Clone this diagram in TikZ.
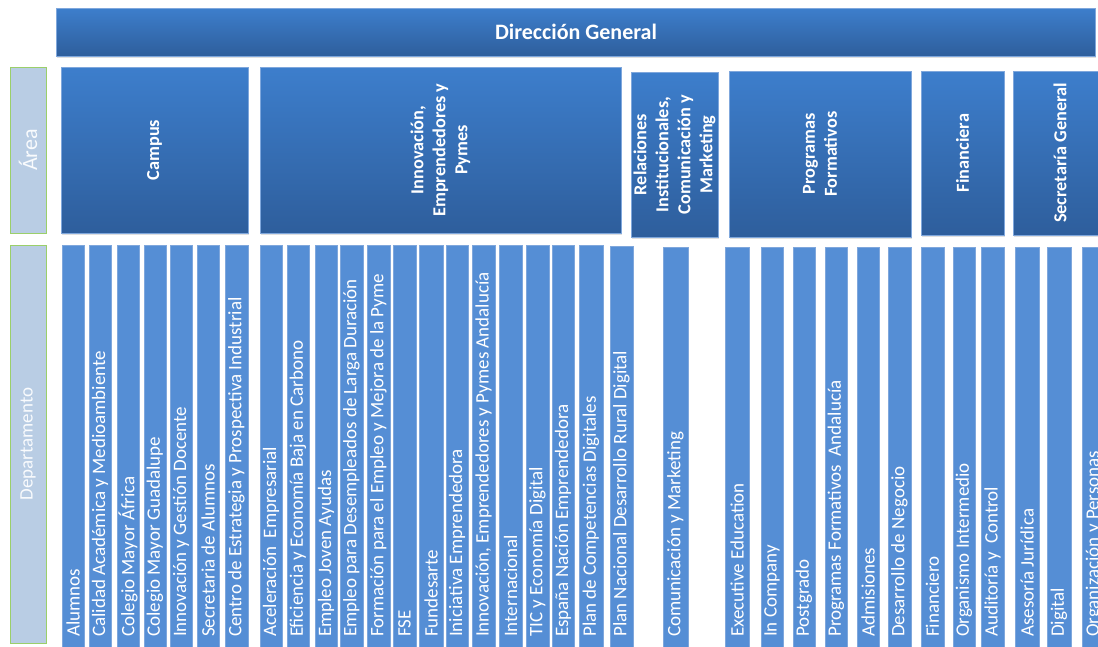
\documentclass[tikz,border=0pt]{standalone}
\usepackage{fontspec}
\setmainfont{Carlito}
\usetikzlibrary{shadows}
\definecolor{hdtop}{HTML}{3D7ECC}
\definecolor{hdbot}{HTML}{2E5E9C}
\definecolor{barfill}{HTML}{558ED5}
\definecolor{barline}{HTML}{7FA7DC}
\definecolor{sidefill}{HTML}{B9CDE4}
\definecolor{sideline}{HTML}{9BCF6A}
\tikzset{
  hdbox/.style={draw=barline, line width=0.6pt, top color=hdtop, bottom color=hdbot, inner sep=0pt,
    drop shadow={opacity=0.25, shadow xshift=1pt, shadow yshift=-2pt}},
  deptbar/.style={draw=barline, line width=0.6pt, fill=barfill, inner sep=0pt,
    drop shadow={opacity=0.2, shadow xshift=1pt, shadow yshift=-1pt}},
  sidebox/.style={draw=sideline, line width=0.8pt, fill=sidefill, inner sep=0pt},
  depttext/.style={text=white, font=\fontsize{19}{21}\selectfont, rotate=90, anchor=west, inner sep=0pt},
  areatext/.style={text=white, font=\fontsize{18.3}{22}\selectfont\bfseries, rotate=90, align=center, inner sep=0pt},
  sidetext/.style={text=white!92!sidefill, rotate=90, inner sep=0pt}
}
\newcommand\deptcol[5]{%
  \node[deptbar, anchor=north west, minimum width={#3-#2}, minimum height={670-#4}] (#1) at (#2,#4) {};
  \node[depttext] (#1t) at ({(#2+#3)/2},637) {#5};
}
\newcommand\areablk[6]{%
  \node[hdbox, anchor=north west, minimum width={#3-#2}, minimum height={#5-#4}] (#1) at (#2,#4) {};
  \node[areatext] (#1t) at ({(#2+#3)/2},{(#4+#5)/2}) {#6};
}
\begin{document}
\begin{tikzpicture}[x=1pt,y=-1pt]
\clip (0,0) rectangle (1098,646);
\fill[white] (0,0) rectangle (1098,646);
% header
\node[hdbox, anchor=north west, minimum width=1039, minimum height=48] (dg) at (56,8) {};
\node[text=white, font=\fontsize{22}{24}\selectfont\bfseries, inner sep=0pt] (dgt) at (576,32) {Dirección General};
% side labels
\node[sidebox, anchor=north west, minimum width=36, minimum height=166] (sarea) at (10,67) {};
\node[sidetext, font=\fontsize{22}{24}\selectfont] (sareat) at (28,150) {Área};
\node[sidebox, anchor=north west, minimum width=36, minimum height=398] (sdep) at (10,245) {};
\node[sidetext, font=\fontsize{19}{21}\selectfont] (sdept) at (28,444) {Departamento};
% areas
\areablk{acampus}{61}{248}{67}{233}{Campus}
\areablk{ainno}{260}{621}{67}{233}{Innovación,\\Emprendedores y\\Pymes}
\areablk{arel}{631}{718}{72}{237}{Relaciones\\Institucionales,\\Comunicación y\\Marketing}
\areablk{aprog}{729}{911}{71}{237}{Programas\\Formativos}
\areablk{afin}{921}{1004}{71}{235}{Financiera}
\areablk{asec}{1013}{1107}{71}{235}{Secretaría General}
% departments
\deptcol{d1}{62}{84}{245}{Alumnos}
\deptcol{d2}{89}{111}{245}{Calidad Académica y Medioambiente}
\deptcol{d3}{117}{139}{245}{Colegio Mayor África}
\deptcol{d4}{144}{166}{245}{Colegio Mayor Guadalupe}
\deptcol{d5}{170}{192}{245}{Innovación y Gestión Docente}
\deptcol{d6}{197}{219}{245}{Secretaria de Alumnos}
\deptcol{d7}{225}{248}{245}{Centro de Estrategia y Prospectiva Industrial}
\deptcol{d8}{260}{282}{245}{Aceleración\ \ Empresarial}
\deptcol{d9}{287}{309}{245}{Eficiencia y Economía Baja en Carbono}
\deptcol{d10}{315}{337}{245}{Empleo Joven Ayudas}
\deptcol{d11}{340}{363}{245}{Empleo para Desempleados de Larga Duración}
\deptcol{d12}{367}{390}{245}{Formación para el Empleo y Mejora de la Pyme}
\deptcol{d13}{393}{416}{245}{FSE}
\deptcol{d14}{419}{443}{245}{Fundesarte}
\deptcol{d15}{446}{468}{245}{Iniciativa Emprendedora}
\deptcol{d16}{472}{495}{245}{Innovación, Emprendedores y Pymes Andalucía}
\deptcol{d17}{499}{522}{245}{Internacional}
\deptcol{d18}{526}{549}{245}{TIC y Economía Digital}
\deptcol{d19}{552}{574}{245}{España Nación Emprendedora}
\deptcol{d20}{579}{603}{245}{Plan de Competencias Digitales}
\deptcol{d21}{610}{633}{246}{Plan Nacional Desarrollo Rural Digital}
\deptcol{d22}{663}{688}{247}{Comunicación y Marketing}
\deptcol{d23}{725}{749}{247}{Executive Education}
\deptcol{d24}{761}{783}{247}{In Company}
\deptcol{d25}{793}{815}{247}{Postgrado}
\deptcol{d26}{825}{847}{247}{Programas Formativos\ \ Andalucía}
\deptcol{d27}{857}{879}{247}{Admisiones}
\deptcol{d28}{888}{911}{247}{Desarrollo de Negocio}
\deptcol{d29}{921}{944}{247}{Financiero}
\deptcol{d30}{953}{975}{247}{Organismo Intermedio}
\deptcol{d31}{981}{1004}{247}{Auditoría y\ \ Control}
\deptcol{d32}{1015}{1039}{247}{Asesoría Jurídica}
\deptcol{d33}{1047}{1071}{247}{Digital}
\deptcol{d34}{1082}{1106}{247}{Organización y Personas}
\end{tikzpicture}
\end{document}
